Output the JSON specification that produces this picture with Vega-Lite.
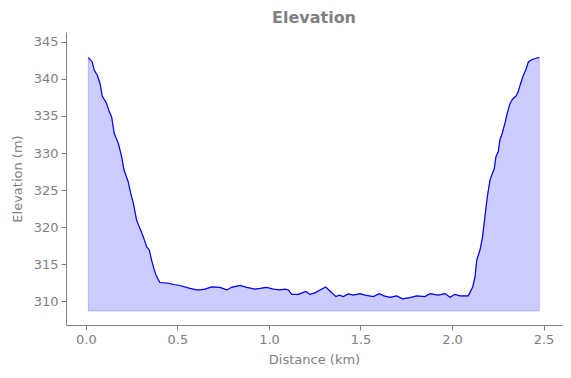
{
  "$schema": "https://vega.github.io/schema/vega-lite/v6.json",
  "width": 496,
  "height": 293,
  "autosize": {"type": "none"},
  "padding": {"left": 66, "top": 32, "right": 9, "bottom": 53},
  "background": "white",
  "config": {
    "view": {"stroke": null},
    "font": "DejaVu Sans",
    "axis": {
      "grid": false,
      "domainColor": "#808080",
      "tickColor": "#808080",
      "labelColor": "#808080",
      "titleColor": "#808080",
      "labelFont": "DejaVu Sans",
      "titleFont": "DejaVu Sans",
      "labelFontSize": 13,
      "titleFontSize": 13,
      "titleFontWeight": "normal",
      "tickSize": 5,
      "labelPadding": 3
    },
    "title": {"font": "DejaVu Sans", "fontSize": 16, "fontWeight": "bold", "color": "#808080", "offset": 6}
  },
  "title": {"text": "Elevation", "anchor": "middle"},
  "data": {
    "values": [
      {"d": 0.013, "e": 342.9}, {"d": 0.034, "e": 342.3}, {"d": 0.045, "e": 341.2}, {"d": 0.062, "e": 340.5},
      {"d": 0.077, "e": 339.4}, {"d": 0.089, "e": 337.7}, {"d": 0.113, "e": 336.7}, {"d": 0.127, "e": 335.6},
      {"d": 0.14, "e": 334.9}, {"d": 0.155, "e": 332.6}, {"d": 0.177, "e": 331.3}, {"d": 0.195, "e": 329.5},
      {"d": 0.208, "e": 327.7}, {"d": 0.231, "e": 326.1}, {"d": 0.244, "e": 324.6}, {"d": 0.259, "e": 323.2},
      {"d": 0.277, "e": 320.9}, {"d": 0.295, "e": 319.8}, {"d": 0.313, "e": 318.7}, {"d": 0.332, "e": 317.3},
      {"d": 0.346, "e": 316.9}, {"d": 0.359, "e": 315.5}, {"d": 0.373, "e": 314.2}, {"d": 0.386, "e": 313.3},
      {"d": 0.404, "e": 312.5}, {"d": 0.45, "e": 312.4}, {"d": 0.486, "e": 312.2}, {"d": 0.514, "e": 312.1},
      {"d": 0.568, "e": 311.7}, {"d": 0.605, "e": 311.5}, {"d": 0.623, "e": 311.5}, {"d": 0.65, "e": 311.6},
      {"d": 0.687, "e": 311.9}, {"d": 0.732, "e": 311.85}, {"d": 0.769, "e": 311.5}, {"d": 0.796, "e": 311.85},
      {"d": 0.842, "e": 312.1}, {"d": 0.878, "e": 311.85}, {"d": 0.923, "e": 311.6}, {"d": 0.951, "e": 311.7},
      {"d": 0.987, "e": 311.85}, {"d": 1.024, "e": 311.6}, {"d": 1.06, "e": 311.5}, {"d": 1.087, "e": 311.6},
      {"d": 1.106, "e": 311.5}, {"d": 1.124, "e": 310.9}, {"d": 1.16, "e": 310.9}, {"d": 1.202, "e": 311.3},
      {"d": 1.224, "e": 310.9}, {"d": 1.251, "e": 311.1}, {"d": 1.279, "e": 311.5}, {"d": 1.31, "e": 311.9},
      {"d": 1.333, "e": 311.35}, {"d": 1.366, "e": 310.6}, {"d": 1.384, "e": 310.8}, {"d": 1.406, "e": 310.6},
      {"d": 1.433, "e": 310.95}, {"d": 1.461, "e": 310.8}, {"d": 1.497, "e": 311.0}, {"d": 1.525, "e": 310.8},
      {"d": 1.57, "e": 310.6}, {"d": 1.603, "e": 311.0}, {"d": 1.628, "e": 310.7}, {"d": 1.661, "e": 310.5},
      {"d": 1.698, "e": 310.7}, {"d": 1.73, "e": 310.3}, {"d": 1.77, "e": 310.45}, {"d": 1.807, "e": 310.7},
      {"d": 1.852, "e": 310.6}, {"d": 1.88, "e": 311.0}, {"d": 1.925, "e": 310.8}, {"d": 1.962, "e": 311.0},
      {"d": 1.989, "e": 310.5}, {"d": 2.016, "e": 310.9}, {"d": 2.044, "e": 310.7}, {"d": 2.089, "e": 310.7},
      {"d": 2.113, "e": 311.9}, {"d": 2.126, "e": 313.3}, {"d": 2.135, "e": 315.5}, {"d": 2.153, "e": 316.9},
      {"d": 2.166, "e": 318.5}, {"d": 2.18, "e": 321.4}, {"d": 2.193, "e": 324.1}, {"d": 2.208, "e": 326.4},
      {"d": 2.231, "e": 327.9}, {"d": 2.24, "e": 329.5}, {"d": 2.253, "e": 330.2}, {"d": 2.262, "e": 331.8},
      {"d": 2.275, "e": 332.7}, {"d": 2.29, "e": 334.1}, {"d": 2.302, "e": 335.4}, {"d": 2.317, "e": 336.7},
      {"d": 2.332, "e": 337.3}, {"d": 2.35, "e": 337.7}, {"d": 2.362, "e": 338.3}, {"d": 2.375, "e": 339.4},
      {"d": 2.39, "e": 340.5}, {"d": 2.403, "e": 341.2}, {"d": 2.417, "e": 342.3}, {"d": 2.435, "e": 342.6},
      {"d": 2.459, "e": 342.8}, {"d": 2.477, "e": 342.9}
    ]
  },
  "encoding": {
    "x": {
      "field": "d", "type": "quantitative",
      "scale": {"domain": [-0.109, 2.601], "nice": false, "zero": false},
      "axis": {"title": "Distance (km)", "values": [0, 0.5, 1, 1.5, 2, 2.5], "format": ".1f", "titlePadding": 7}
    },
    "y": {
      "field": "e", "type": "quantitative",
      "scale": {"domain": [306.76, 346.35], "nice": false, "zero": false},
      "axis": {"title": "Elevation (m)", "values": [310, 315, 320, 325, 330, 335, 340, 345], "titlePadding": 9}
    }
  },
  "layer": [
    {
      "mark": {"type": "area", "fill": "blue", "fillOpacity": 0.2, "stroke": "blue", "strokeOpacity": 0.2, "strokeWidth": 1},
      "encoding": {"y2": {"datum": 308.65}}
    },
    {
      "mark": {"type": "line", "color": "blue", "strokeWidth": 1.2}
    }
  ]
}
